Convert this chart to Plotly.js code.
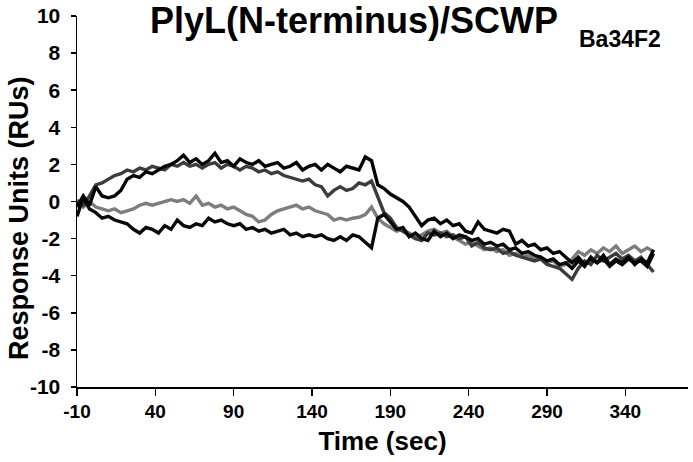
<!DOCTYPE html>
<html>
<head>
<meta charset="utf-8">
<script src="https://cdn.plot.ly/plotly-3.0.1.min.js"></script>
<style>html,body{margin:0;padding:0;background:#fff}#chart{width:693px;height:462px}</style>
</head>
<body>
<div id="chart"></div>
<script>
// Time (sec)
const time = [-10,-6,-2,2,6,10,14,18,22,26,30,34,38,42,46,50,54,58,62,66,70,74,78,82,86,90,94,98,102,106,110,114,118,122,126,130,134,138,142,146,150,154,158,162,166,170,174,178,182,186,190,194,198,202,206,210,214,218,222,226,230,234,238,242,246,250,254,258,262,266,270,274,278,282,286,290,294,298,302,306,310,314,318,322,326,330,334,338,342,346,350,354,358];

// Response Units (RUs), four sensorgrams
const seriesA = [-0.3,0.3,-0.2,0.8,0.3,0.2,0.3,0.6,1.2,1.4,1.3,1.6,1.5,1.7,1.9,2.0,2.2,2.5,2.1,2.3,2.0,2.2,2.6,2.1,2.2,1.9,2.3,2.1,2.0,2.2,1.9,2.0,2.1,1.8,1.9,2.1,1.7,1.9,2.0,1.7,2.0,1.8,1.6,1.9,1.8,1.7,2.4,2.2,0.9,0.7,0.4,0.2,0.0,-0.3,-0.8,-1.3,-1.0,-0.9,-1.2,-1.0,-1.3,-1.2,-1.6,-1.7,-1.1,-1.5,-1.6,-1.7,-1.5,-1.6,-2.3,-2.1,-2.4,-2.3,-2.6,-2.5,-2.8,-2.7,-3.0,-3.3,-3.0,-3.4,-3.1,-3.3,-2.9,-3.4,-3.1,-3.3,-3.0,-3.4,-3.1,-3.3,-2.6];

const seriesB = [0.0,-0.2,0.3,0.9,1.0,1.2,1.4,1.5,1.7,1.6,1.8,1.7,1.9,1.8,1.7,2.0,1.9,2.1,1.9,2.0,1.8,2.0,2.1,1.8,2.0,1.9,1.7,1.9,1.8,1.6,1.7,1.5,1.6,1.4,1.3,1.2,1.1,1.2,0.9,0.8,0.3,0.6,0.8,0.6,0.7,1.0,0.9,1.1,0.2,-0.6,-0.9,-1.4,-1.6,-1.8,-2.0,-2.1,-1.7,-1.8,-1.7,-1.9,-1.8,-2.0,-1.9,-2.4,-2.2,-2.5,-2.6,-2.5,-2.8,-2.7,-2.9,-3.0,-3.1,-3.2,-3.1,-3.4,-3.5,-3.6,-3.9,-4.2,-3.6,-3.2,-3.4,-2.9,-3.2,-3.0,-2.8,-3.1,-2.9,-3.2,-3.0,-3.4,-3.8];

const seriesC = [0.1,-0.3,0.0,-0.3,-0.4,-0.5,-0.4,-0.6,-0.5,-0.4,-0.2,-0.1,-0.2,-0.1,0.0,0.1,0.0,0.1,-0.1,0.3,-0.2,-0.1,-0.3,-0.2,-0.4,-0.3,-0.5,-0.7,-0.8,-1.1,-1.0,-0.7,-0.5,-0.4,-0.3,-0.2,-0.4,-0.3,-0.5,-0.6,-0.7,-1.0,-0.9,-1.0,-0.9,-0.85,-0.7,-0.3,-0.9,-1.2,-1.4,-1.6,-1.5,-1.7,-1.9,-1.8,-1.6,-1.5,-1.7,-1.6,-1.9,-2.1,-2.3,-2.2,-2.4,-2.6,-2.5,-2.7,-2.6,-2.9,-2.8,-3.0,-2.9,-3.1,-3.0,-3.3,-3.2,-3.5,-3.4,-3.1,-2.7,-2.9,-2.6,-2.8,-2.5,-2.7,-2.4,-2.8,-2.6,-2.4,-2.7,-2.5,-2.7];

const seriesD = [-0.8,0.2,-0.4,-0.6,-0.9,-0.8,-1.0,-1.1,-1.2,-1.5,-1.7,-1.4,-1.5,-1.7,-1.3,-1.5,-1.0,-1.3,-1.4,-1.2,-1.3,-0.9,-1.1,-1.0,-1.2,-1.3,-1.2,-1.5,-1.4,-1.6,-1.5,-1.7,-1.6,-1.5,-1.8,-1.7,-1.9,-1.8,-1.9,-1.8,-2.0,-2.1,-1.9,-2.1,-1.8,-1.9,-2.2,-2.5,-0.9,-0.7,-1.1,-1.5,-1.4,-1.9,-1.7,-2.0,-2.1,-1.6,-1.9,-1.7,-2.0,-1.8,-1.9,-2.1,-2.0,-2.3,-2.2,-2.4,-2.3,-2.6,-2.5,-2.8,-2.7,-2.9,-3.0,-3.2,-3.1,-3.4,-3.3,-3.6,-3.2,-3.5,-3.0,-3.3,-3.1,-3.5,-3.2,-3.4,-3.1,-3.3,-3.2,-3.5,-2.8];

const xTicks = [-10,40,90,140,190,240,290,340];
const yTicks = [-10,-8,-6,-4,-2,0,2,4,6,8,10];

const titleMain = 'PlyL(N-terminus)/SCWP';
const titleSub = 'Ba34F2';
const xTitle = 'Time (sec)';
const yTitle = 'Response Units (RUs)';

const FONT = 'Liberation Sans, Arial, Helvetica, sans-serif';

const mk = (y, color, name) => ({
  x: time, y: y, type: 'scatter', mode: 'lines', name: name,
  line: {color: color, width: 3.4}, showlegend: false
});

const data = [
  mk(seriesC, '#7d7d7d', 'C'),
  mk(seriesB, '#3c3c3c', 'B'),
  mk(seriesD, '#0a0a0a', 'D'),
  mk(seriesA, '#050505', 'A')
];

const L = 77, R = 5, T = 16, B = 75, W = 693, H = 462;
const pw = W - L - R, ph = H - T - B;
const px = v => (v - L) / pw;          // container px -> paper x
const py = v => (H - B - v) / ph;      // container px -> paper y

const layout = {
  width: W, height: H,
  margin: {l: L, r: R, t: T, b: B},
  paper_bgcolor: '#ffffff', plot_bgcolor: '#ffffff',
  font: {family: FONT, color: '#000'},
  title: {
    text: titleMain,
    font: {family: FONT, size: 36, weight: 'bold', color: '#000'},
    x: 354 / W, xanchor: 'center', xref: 'container',
    y: 1 - 8 / H, yanchor: 'top', yref: 'container'
  },
  annotations: [
    {text: titleSub, xref: 'paper', yref: 'paper', x: px(620), y: py(39),
     xanchor: 'center', yanchor: 'middle', showarrow: false,
     font: {family: FONT, size: 23, weight: 'bold', color: '#000'}},
    {text: yTitle, xref: 'paper', yref: 'paper', x: px(19), y: py(218),
     xanchor: 'center', yanchor: 'middle', showarrow: false, textangle: -90,
     font: {family: FONT, size: 27, weight: 'bold', color: '#000'}}
  ],
  xaxis: {
    range: [-10, 380],
    tickmode: 'array', tickvals: xTicks, ticktext: xTicks.map(String),
    ticks: 'outside', ticklen: 7, tickwidth: 1.5, tickcolor: '#000',
    showline: true, linecolor: '#000', linewidth: 1.5,
    showgrid: false, zeroline: false,
    tickfont: {family: FONT, size: 19, weight: 'bold', color: '#000'},
    title: {text: xTitle, font: {family: FONT, size: 26, weight: 'bold', color: '#000'}, standoff: 10}
  },
  yaxis: {
    range: [-10, 10],
    tickmode: 'array', tickvals: yTicks, ticktext: yTicks.map(String),
    ticks: 'outside', ticklen: 5, tickwidth: 1.5, tickcolor: '#000',
    showline: true, linecolor: '#000', linewidth: 1.5,
    showgrid: false, zeroline: false,
    ticklabelstandoff: 6,
    tickfont: {family: FONT, size: 21, weight: 'bold', color: '#000'}
  }
};

Plotly.newPlot('chart', data, layout, {staticPlot: true, displayModeBar: false});
</script>
</body>
</html>
